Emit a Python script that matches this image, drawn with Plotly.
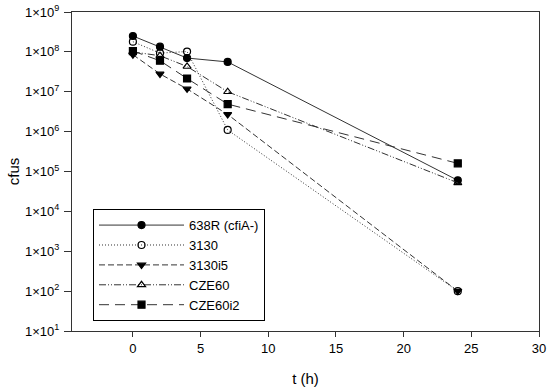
import plotly.graph_objects as go

t = [0, 2, 4, 7, 24]
names = ["638R (cfiA-)", "3130", "3130i5", "CZE60", "CZE60i2"]
y_638R = [2.5e8, 1.35e8, 7.0e7, 5.6e7, 6.0e4]
y_3130 = [1.8e8, 9.3e7, 1.02e8, 1.1e6, 1.0e2]
y_3130i5 = [8.5e7, 2.8e7, 1.18e7, 2.7e6, 1.0e2]
y_CZE60 = [1.0e8, 8.0e7, 4.3e7, 1.0e7, 5.2e4]
y_CZE60i2 = [1.05e8, 6.0e7, 2.15e7, 4.9e6, 1.6e5]

series = [y_638R, y_3130, y_3130i5, y_CZE60, y_CZE60i2]
symbols = ["circle", "circle-open", "triangle-down", "triangle-up-open", "square"]
dashes = ["solid", "1px,2px", "6px,3px", "7px,2px,1px,2px,1px,2px", "10px,6px"]

y_tickvals = [10 ** k for k in range(1, 10)]
y_ticktext = ["1×10<sup>%d</sup>" % k for k in range(1, 10)]
x_tickvals = [0, 5, 10, 15, 20, 25, 30]

fig = go.Figure()
for name, ys, sym, dash in zip(names, series, symbols, dashes):
    fig.add_trace(go.Scatter(
        x=t, y=ys, name=name, mode="lines+markers",
        line=dict(color="#333333", width=1, dash=dash),
        marker=dict(symbol=sym, size=7, color="black",
                    line=dict(color="black", width=1.2)),
    ))

fig.update_layout(
    width=550, height=391,
    margin=dict(l=72, r=11, t=12, b=60, autoexpand=False),
    paper_bgcolor="white", plot_bgcolor="white",
    font=dict(family="Liberation Sans, Arial, sans-serif", size=13, color="black"),
    showlegend=True,
    legend=dict(x=0.045, y=0.382, xanchor="left", yanchor="top",
                bordercolor="black", borderwidth=1, bgcolor="white",
                font=dict(size=13), itemwidth=85,
                tracegroupgap=0),
)
fig.update_xaxes(
    range=[-4.5, 30], tickvals=x_tickvals, ticks="outside", ticklen=5,
    tickcolor="#333333", showline=True, linecolor="#333333", linewidth=1,
    mirror=True, showgrid=False, zeroline=False, automargin=False,
    tickfont=dict(size=13), ticklabeloverflow="allow",
    title=dict(text="t (h)", font=dict(size=15), standoff=18),
)
fig.update_yaxes(
    type="log", range=[1, 9], tickvals=y_tickvals, ticktext=y_ticktext,
    ticks="outside", ticklen=7, tickcolor="#333333",
    showline=True, linecolor="#333333", linewidth=1, mirror=True,
    showgrid=False, zeroline=False, automargin=False,
    tickfont=dict(size=13), ticklabelstandoff=2, ticklabeloverflow="allow",
    title=dict(text="cfus", font=dict(size=15), standoff=1),
)

fig.write_html("out.html", config={"displayModeBar": False},
               post_script="document.body.style.margin='0';")
